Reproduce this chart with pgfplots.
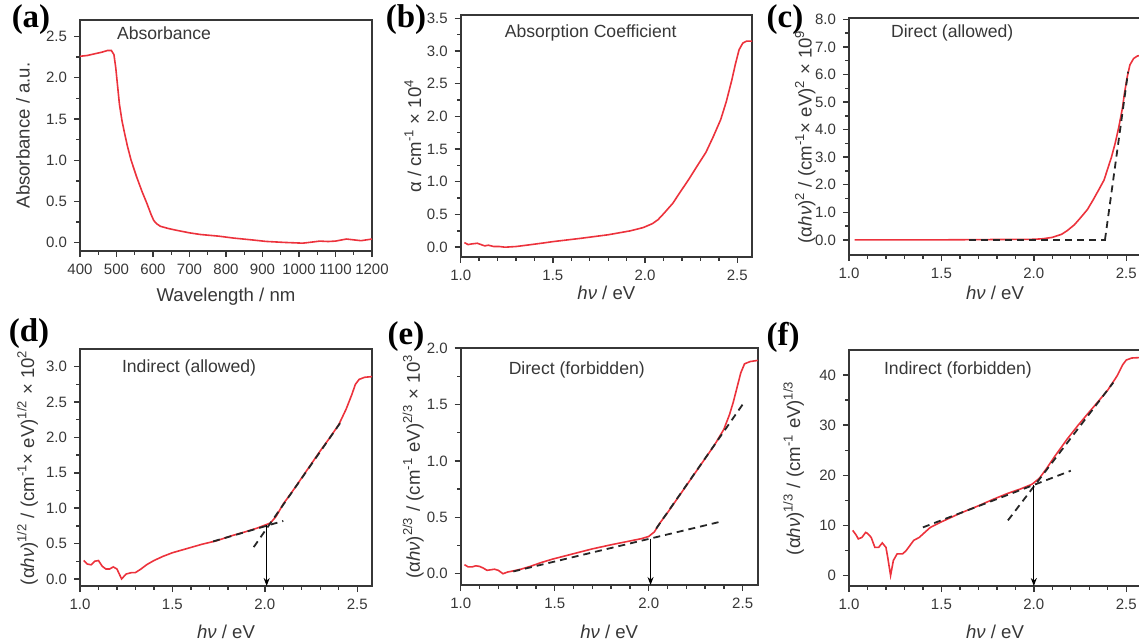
\documentclass[border=0pt]{standalone}
\usepackage{pgfplots}
\pgfplotsset{compat=1.18}
\usepackage{fontspec}
\setmainfont{Liberation Sans}
\newfontfamily\serifbf{Liberation Serif}
\usetikzlibrary{arrows.meta}
\definecolor{cred}{RGB}{236,50,60}
\definecolor{cax}{RGB}{55,55,55}
\pgfplotsset{
 base/.style={
  scale only axis,
  axis line style={draw=cax, line width=1pt},
  tick align=outside,
  xtick pos=left, ytick pos=left,
  major tick length=3pt, minor tick length=1.8pt,
  every tick/.style={draw=cax, line width=0.7pt},
  tick label style={font=\fontsize{7.5}{8}\selectfont, text=cax},
  label style={font=\fontsize{9.3}{10}\selectfont, text=cax},
  /pgf/number format/assume math mode=true,
  scaled ticks=false,
  clip=false,
 },
 ev/.style={xmin=1.0,xmax=2.58, xtick={1,1.5,2,2.5}, minor x tick num=4,
   xticklabel style={/pgf/number format/.cd,fixed,fixed zerofill,precision=1},
   xlabel={\textit{hν} / eV}},
 ydec/.style={yticklabel style={/pgf/number format/.cd,fixed,fixed zerofill,precision=1}},
 ylab/.style={ylabel style={at={(axis description cs:#1,0.5)}, anchor=center}},
 xlab/.style={xlabel style={at={(axis description cs:0.5,0)}, anchor=center, yshift=#1}},
 redline/.style={cred, line width=0.8pt, no markers},
 dline/.style={black!85, line width=0.9pt, dash pattern=on 3.5pt off 2.5pt, no markers},
 arr/.style={black, line width=0.6pt, -{Stealth[length=4pt,width=3pt]}, no markers},
}
\newcommand{\annot}[3]{\node[anchor=west, xshift=#1, yshift=#2, font=\fontsize{8.8}{10}\selectfont, text=cax] at (rel axis cs:0,1) {#3};}
\newcommand{\plab}[2]{\node[font=\serifbf\bfseries\fontsize{16.5}{16.5}\selectfont] at #1 {#2};}
\begin{document}
\begin{tikzpicture}
\useasboundingbox (0,0) rectangle (569.5pt,321.5pt);
\clip (0,0) rectangle (569.5pt,321.5pt);

% (a)
\begin{axis}[base, at={(40pt,196pt)}, anchor=south west, width=146pt, height=115.5pt,
  xmin=400, xmax=1200, xtick={400,500,...,1200}, minor x tick num=1,
  xticklabel style={/pgf/number format/.cd,fixed,precision=0,1000 sep={}},
  ymin=-0.1, ymax=2.7, ytick={0,0.5,...,2.5}, minor y tick num=1, ydec,
  xlabel={Wavelength / nm}, ylabel={Absorbance / a.u.}, ylab=-0.195, xlab=-23pt]
\addplot[redline] coordinates {
(400,2.26) (420,2.27) (440,2.29) (460,2.31) (475,2.33) (486,2.33) (493,2.28) (498,2.12)
(503,1.90) (508,1.68) (515,1.48) (522,1.33) (530,1.17) (540,1.00) (555,0.80) (570,0.62) (583,0.48)
(595,0.34) (602,0.27) (610,0.23) (620,0.20) (640,0.175) (660,0.155) (700,0.12) (730,0.10)
(780,0.08) (820,0.057) (870,0.035) (910,0.016) (960,0.004) (1010,-0.005) (1030,0.005)
(1057,0.02) (1080,0.015) (1100,0.02) (1130,0.045) (1150,0.035) (1170,0.025) (1200,0.045)};
\annot{15pt}{-6.5pt}{Absorbance}
\end{axis}

% (b)
\begin{axis}[base, ev, at={(230.35pt,193pt)}, anchor=south west, width=145.65pt, height=121pt,
  ymin=-0.15, ymax=3.55, ytick={0,0.5,...,3.5}, minor y tick num=1, ydec,
  ylabel={α / cm\textsuperscript{-1} × 10\textsuperscript{4}}, ylab=-0.164, xlab=-18pt]
\addplot[redline] coordinates {
(1.02,0.07) (1.04,0.04) (1.06,0.05) (1.09,0.06) (1.11,0.04) (1.13,0.02) (1.15,0.03)
(1.18,0.01) (1.21,0.01) (1.24,0.0) (1.30,0.01) (1.37,0.035) (1.45,0.065) (1.50,0.085)
(1.65,0.135) (1.80,0.19) (1.92,0.25) (1.99,0.30) (2.04,0.36) (2.07,0.42) (2.10,0.51)
(2.15,0.67) (2.19,0.84) (2.24,1.05) (2.28,1.23) (2.33,1.45) (2.37,1.69) (2.41,1.95)
(2.44,2.22) (2.47,2.55) (2.49,2.80) (2.51,3.02) (2.53,3.12) (2.55,3.15) (2.58,3.15)};
\annot{18.5pt}{-9pt}{Absorption Coefficient}
\end{axis}

% (c)
\begin{axis}[base, ev, at={(424.5pt,194pt)}, anchor=south west, width=146pt, height=118.5pt,
  ymin=-0.55, ymax=8.05, ytick={0,1,...,8}, minor y tick num=1, ydec,
  ylabel={(α\textit{hν})\textsuperscript{2} / (cm\textsuperscript{-1}× eV)\textsuperscript{2} × 10\textsuperscript{9}}, ylab=-0.15, xlab=-19pt]
\addplot[redline] coordinates {
(1.03,0.0) (1.5,0.0) (2.0,0.02) (2.05,0.04) (2.10,0.09) (2.15,0.2) (2.18,0.33) (2.22,0.55)
(2.25,0.78) (2.29,1.1) (2.32,1.44) (2.35,1.8) (2.38,2.17) (2.42,3.0) (2.44,3.5) (2.46,4.1)
(2.48,4.8) (2.49,5.3) (2.505,5.9) (2.52,6.35) (2.54,6.58) (2.56,6.67) (2.58,6.7)};
\addplot[dline] coordinates {(1.65,0) (2.39,0)};
\addplot[dline] coordinates {(2.385,0) (2.51,6.1)};
\annot{17.5pt}{-7.5pt}{Direct (allowed)}
\end{axis}

% (d)
\begin{axis}[base, ev, at={(40pt,28.5pt)}, anchor=south west, width=146pt, height=118.5pt,
  ymin=-0.1, ymax=3.25, ytick={0,0.5,...,3.0}, minor y tick num=1, ydec,
  ylabel={(α\textit{hν})\textsuperscript{1/2} / (cm\textsuperscript{-1}× eV)\textsuperscript{1/2} × 10\textsuperscript{2}}, ylab=-0.18, xlab=-23pt]
\addplot[redline] coordinates {
(1.02,0.26) (1.04,0.21) (1.06,0.20) (1.08,0.25) (1.10,0.26) (1.12,0.18) (1.14,0.14)
(1.16,0.14) (1.18,0.17) (1.20,0.14) (1.225,0.0) (1.25,0.07) (1.28,0.09) (1.30,0.09)
(1.33,0.14) (1.36,0.2) (1.40,0.26) (1.45,0.32) (1.50,0.37) (1.58,0.43) (1.66,0.49)
(1.74,0.54) (1.82,0.61) (1.90,0.67) (1.96,0.72) (2.00,0.76) (2.03,0.79) (2.06,0.88)
(2.10,1.06) (2.15,1.24) (2.20,1.43) (2.25,1.62) (2.30,1.81) (2.35,1.99) (2.40,2.18)
(2.44,2.40) (2.47,2.6) (2.49,2.75) (2.51,2.82) (2.54,2.85) (2.58,2.86)};
\addplot[dline] coordinates {(1.72,0.53) (2.10,0.82)};
\addplot[dline] coordinates {(1.94,0.45) (2.42,2.25)};
\addplot[arr] coordinates {(2.01,0.76) (2.01,-0.1)};
\annot{17.5pt}{-9.5pt}{Indirect (allowed)}
\end{axis}

% (e)
\begin{axis}[base, ev, at={(230.35pt,29pt)}, anchor=south west, width=148.5pt, height=118.5pt,
  ymin=-0.1, ymax=2.0, ytick={0,0.5,...,2.0}, minor y tick num=1, ydec,
  ylabel={(α\textit{hν})\textsuperscript{2/3} / (cm\textsuperscript{-1} eV)\textsuperscript{2/3} × 10\textsuperscript{3}}, ylab=-0.16, xlab=-23.3pt]
\addplot[redline] coordinates {
(1.02,0.08) (1.04,0.06) (1.06,0.06) (1.08,0.07) (1.10,0.065) (1.12,0.05) (1.14,0.03)
(1.16,0.035) (1.18,0.04) (1.20,0.03) (1.225,0.0) (1.25,0.015) (1.28,0.025) (1.32,0.04)
(1.37,0.065) (1.43,0.10) (1.49,0.13) (1.56,0.16) (1.63,0.19) (1.70,0.22) (1.81,0.26)
(1.90,0.29) (1.96,0.31) (2.00,0.33) (2.03,0.37) (2.06,0.45) (2.10,0.54) (2.15,0.66)
(2.20,0.78) (2.25,0.90) (2.30,1.02) (2.35,1.14) (2.40,1.28) (2.43,1.41) (2.45,1.52)
(2.47,1.65) (2.49,1.78) (2.51,1.86) (2.54,1.88) (2.58,1.89)};
\addplot[dline] coordinates {(1.28,0.02) (2.38,0.46)};
\addplot[dline] coordinates {(2.04,0.40) (2.50,1.50)};
\addplot[arr] coordinates {(2.01,0.31) (2.01,-0.1)};
\annot{20.5pt}{-11pt}{Direct (forbidden)}
\end{axis}

% (f)
\begin{axis}[base, ev, at={(424.5pt,28.5pt)}, anchor=south west, width=146pt, height=118pt,
  ymin=-2.1, ymax=45, ytick={0,10,...,40}, minor y tick num=1,
  ylabel={(α\textit{hν})\textsuperscript{1/3} / (cm\textsuperscript{-1} eV)\textsuperscript{1/3}}, ylab=-0.19, xlab=-23pt]
\addplot[redline] coordinates {
(1.02,9.0) (1.04,8.0) (1.05,7.3) (1.07,7.6) (1.09,8.6) (1.10,8.4) (1.12,7.6) (1.14,5.6)
(1.16,5.6) (1.18,6.5) (1.20,5.6) (1.21,3.5) (1.225,0.0) (1.24,3.0) (1.26,4.3) (1.29,4.3)
(1.31,5.0) (1.35,7.0) (1.38,7.6) (1.44,9.6) (1.50,10.7) (1.60,12.4) (1.70,13.9) (1.78,15.2)
(1.86,16.4) (1.93,17.3) (1.99,18.2) (2.03,19.4) (2.07,21.4) (2.11,23.6) (2.18,27.2)
(2.24,30.0) (2.29,32.2) (2.35,34.8) (2.40,37.0) (2.45,39.8) (2.48,42.0) (2.50,43.0)
(2.53,43.4) (2.58,43.5)};
\addplot[dline] coordinates {(1.40,9.6) (2.20,20.9)};
\addplot[dline] coordinates {(1.86,11.0) (2.43,38.5)};
\addplot[arr] coordinates {(2.0,18.0) (2.0,-2.1)};
\annot{14pt}{-10pt}{Indirect (forbidden)}
\end{axis}

\plab{(15.5pt,311.5pt)}{(a)}
\plab{(203pt,311.5pt)}{(b)}
\plab{(392.5pt,311.5pt)}{(c)}
\plab{(14.5pt,154.5pt)}{(d)}
\plab{(203pt,153pt)}{(e)}
\plab{(391.5pt,153pt)}{(f)}
\end{tikzpicture}
\end{document}
